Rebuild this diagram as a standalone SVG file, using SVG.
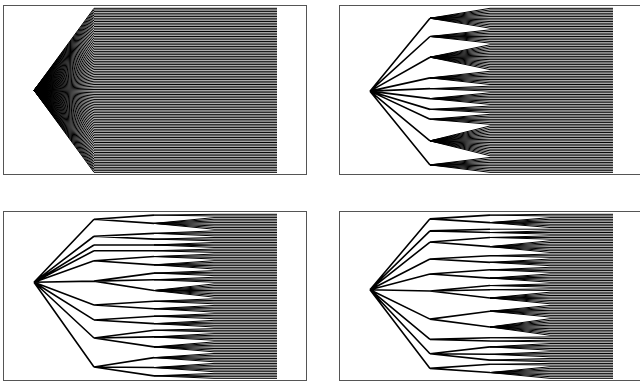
<svg xmlns="http://www.w3.org/2000/svg" xmlns:xlink="http://www.w3.org/1999/xlink" width="640" height="383" viewBox="0 0 640 383">
<style>
.ln{fill:none;stroke:#000;stroke-width:1;vector-effect:non-scaling-stroke}
.in{fill:none;stroke:#000;stroke-width:1.6;vector-effect:non-scaling-stroke}
.box{fill:none;stroke:#555;stroke-width:1}
</style>
<defs>
<path id="rows" class="ln" d="M0 0H1M0 1H1M0 2H1M0 3H1M0 4H1M0 5H1M0 6H1M0 7H1M0 8H1M0 9H1M0 10H1M0 11H1M0 12H1M0 13H1M0 14H1M0 15H1M0 16H1M0 17H1M0 18H1M0 19H1M0 20H1M0 21H1M0 22H1M0 23H1M0 24H1M0 25H1M0 26H1M0 27H1M0 28H1M0 29H1M0 30H1M0 31H1M0 32H1M0 33H1M0 34H1M0 35H1M0 36H1M0 37H1M0 38H1M0 39H1M0 40H1M0 41H1M0 42H1M0 43H1M0 44H1M0 45H1M0 46H1M0 47H1M0 48H1M0 49H1M0 50H1M0 51H1M0 52H1M0 53H1M0 54H1M0 55H1M0 56H1M0 57H1M0 58H1M0 59H1M0 60H1M0 61H1M0 62H1M0 63H1M0 64H1M0 65H1M0 66H1M0 67H1M0 68H1M0 69H1M0 70H1M0 71H1M0 72H1M0 73H1M0 74H1M0 75H1M0 76H1M0 77H1M0 78H1M0 79H1M0 80H1M0 81H1M0 82H1M0 83H1M0 84H1M0 85H1M0 86H1M0 87H1M0 88H1M0 89H1M0 90H1M0 91H1M0 92H1M0 93H1M0 94H1M0 95H1M0 96H1M0 97H1M0 98H1M0 99H1"/>
</defs>
<rect width="640" height="383" fill="#fff"/>

<g id="panel1">
<rect class="box" x="3.5" y="5.5" width="303" height="169"/>
<g id="connectors1" transform="matrix(1 0 0 1.657 0 8.3)">
<path class="ln" d="M34 49.5L94 0M34 49.5L94 1M34 49.5L94 2M34 49.5L94 3M34 49.5L94 4M34 49.5L94 5M34 49.5L94 6M34 49.5L94 7M34 49.5L94 8M34 49.5L94 9M34 49.5L94 10M34 49.5L94 11M34 49.5L94 12M34 49.5L94 13M34 49.5L94 14M34 49.5L94 15M34 49.5L94 16M34 49.5L94 17M34 49.5L94 18M34 49.5L94 19M34 49.5L94 20M34 49.5L94 21M34 49.5L94 22M34 49.5L94 23M34 49.5L94 24M34 49.5L94 25M34 49.5L94 26M34 49.5L94 27M34 49.5L94 28M34 49.5L94 29M34 49.5L94 30M34 49.5L94 31M34 49.5L94 32M34 49.5L94 33M34 49.5L94 34M34 49.5L94 35M34 49.5L94 36M34 49.5L94 37M34 49.5L94 38M34 49.5L94 39M34 49.5L94 40M34 49.5L94 41M34 49.5L94 42M34 49.5L94 43M34 49.5L94 44M34 49.5L94 45M34 49.5L94 46M34 49.5L94 47M34 49.5L94 48M34 49.5L94 49M34 49.5L94 50M34 49.5L94 51M34 49.5L94 52M34 49.5L94 53M34 49.5L94 54M34 49.5L94 55M34 49.5L94 56M34 49.5L94 57M34 49.5L94 58M34 49.5L94 59M34 49.5L94 60M34 49.5L94 61M34 49.5L94 62M34 49.5L94 63M34 49.5L94 64M34 49.5L94 65M34 49.5L94 66M34 49.5L94 67M34 49.5L94 68M34 49.5L94 69M34 49.5L94 70M34 49.5L94 71M34 49.5L94 72M34 49.5L94 73M34 49.5L94 74M34 49.5L94 75M34 49.5L94 76M34 49.5L94 77M34 49.5L94 78M34 49.5L94 79M34 49.5L94 80M34 49.5L94 81M34 49.5L94 82M34 49.5L94 83M34 49.5L94 84M34 49.5L94 85M34 49.5L94 86M34 49.5L94 87M34 49.5L94 88M34 49.5L94 89M34 49.5L94 90M34 49.5L94 91M34 49.5L94 92M34 49.5L94 93M34 49.5L94 94M34 49.5L94 95M34 49.5L94 96M34 49.5L94 97M34 49.5L94 98M34 49.5L94 99"/>
<use xlink:href="#rows" href="#rows" transform="translate(94 0) scale(183 1)"/>
</g>
</g>

<g id="panel2">
<rect class="box" x="339.5" y="5.5" width="303" height="169"/>
<g id="connectors2" transform="matrix(1 0 0 1.657 0 8.3)">
<path class="in" d="M370 50L430 6M370 50L430 17M370 50L430 29.5M370 50L430 42M370 50L430 48.5M370 50L430 54.5M370 50L430 61M370 50L430 67M370 50L430 80M370 50L430 94.5"/>
<path class="ln" d="M430 6L490 0M430 6L490 1M430 6L490 2M430 6L490 3M430 6L490 4M430 6L490 5M430 6L490 6M430 6L490 7M430 6L490 8M430 6L490 9M430 6L490 10M430 6L490 11M430 6L490 12
M430 17L490 13M430 17L490 14M430 17L490 15M430 17L490 16M430 17L490 17M430 17L490 18M430 17L490 19M430 17L490 20M430 17L490 21
M430 29.5L490 22M430 29.5L490 23M430 29.5L490 24M430 29.5L490 25M430 29.5L490 26M430 29.5L490 27M430 29.5L490 28M430 29.5L490 29M430 29.5L490 30M430 29.5L490 31M430 29.5L490 32M430 29.5L490 33M430 29.5L490 34M430 29.5L490 35M430 29.5L490 36M430 29.5L490 37
M430 42L490 38M430 42L490 39M430 42L490 40M430 42L490 41M430 42L490 42M430 42L490 43M430 42L490 44M430 42L490 45M430 42L490 46
M430 48.5L490 47M430 48.5L490 48M430 48.5L490 49M430 48.5L490 50
M430 54.5L490 51M430 54.5L490 52M430 54.5L490 53M430 54.5L490 54M430 54.5L490 55M430 54.5L490 56M430 54.5L490 57M430 54.5L490 58
M430 61L490 59M430 61L490 60M430 61L490 61M430 61L490 62M430 61L490 63
M430 67L490 64M430 67L490 65M430 67L490 66M430 67L490 67M430 67L490 68M430 67L490 69M430 67L490 70
M430 80L490 71M430 80L490 72M430 80L490 73M430 80L490 74M430 80L490 75M430 80L490 76M430 80L490 77M430 80L490 78M430 80L490 79M430 80L490 80M430 80L490 81M430 80L490 82M430 80L490 83M430 80L490 84M430 80L490 85M430 80L490 86M430 80L490 87M430 80L490 88M430 80L490 89
M430 94.5L490 90M430 94.5L490 91M430 94.5L490 92M430 94.5L490 93M430 94.5L490 94M430 94.5L490 95M430 94.5L490 96M430 94.5L490 97M430 94.5L490 98M430 94.5L490 99"/>
<use xlink:href="#rows" href="#rows" transform="translate(490 0) scale(123 1)"/>
</g>
</g>

<g id="panel3">
<rect class="box" x="3.5" y="211.5" width="303" height="169"/>
<g id="connectors3" transform="matrix(1 0 0 1.657 0 214.3)">
<path class="in" d="M34 41L94 3M34 41L94 13.25M34 41L94 18.5M34 41L94 22M34 41L94 28M34 41L94 40.33M34 41L94 54.75M34 41L94 63.75M34 41L94 74.67M34 41L94 92.17
M94 3L154 0.5M94 3L154 5.5M94 13.25L154 11.5M94 13.25L154 15M94 18.5L154 18.5M94 22L154 22M94 28L154 25.5M94 28L154 30.5M94 40.33L154 35.5M94 40.33L154 39.5M94 40.33L154 46M94 54.75L154 52.5M94 54.75L154 57M94 63.75L154 61.5M94 63.75L154 66M94 74.67L154 70M94 74.67L154 74M94 74.67L154 80M94 92.17L154 86.5M94 92.17L154 92.5M94 92.17L154 97.5"/>
<path class="ln" d="M154 0.5L214 0M154 0.5L214 1
M154 5.5L214 2M154 5.5L214 3M154 5.5L214 4M154 5.5L214 5M154 5.5L214 6M154 5.5L214 7M154 5.5L214 8M154 5.5L214 9
M154 11.5L214 10M154 11.5L214 11M154 11.5L214 12M154 11.5L214 13
M154 15L214 14M154 15L214 15M154 15L214 16
M154 18.5L214 17M154 18.5L214 18M154 18.5L214 19M154 18.5L214 20
M154 22L214 21M154 22L214 22M154 22L214 23
M154 25.5L214 24M154 25.5L214 25M154 25.5L214 26M154 25.5L214 27
M154 30.5L214 28M154 30.5L214 29M154 30.5L214 30M154 30.5L214 31M154 30.5L214 32M154 30.5L214 33
M154 35.5L214 34M154 35.5L214 35M154 35.5L214 36M154 35.5L214 37
M154 39.5L214 38M154 39.5L214 39M154 39.5L214 40M154 39.5L214 41
M154 46L214 42M154 46L214 43M154 46L214 44M154 46L214 45M154 46L214 46M154 46L214 47M154 46L214 48M154 46L214 49M154 46L214 50
M154 52.5L214 51M154 52.5L214 52M154 52.5L214 53M154 52.5L214 54
M154 57L214 55M154 57L214 56M154 57L214 57M154 57L214 58M154 57L214 59
M154 61.5L214 60M154 61.5L214 61M154 61.5L214 62M154 61.5L214 63
M154 66L214 64M154 66L214 65M154 66L214 66M154 66L214 67M154 66L214 68
M154 70L214 69M154 70L214 70M154 70L214 71
M154 74L214 72M154 74L214 73M154 74L214 74M154 74L214 75M154 74L214 76
M154 80L214 77M154 80L214 78M154 80L214 79M154 80L214 80M154 80L214 81M154 80L214 82M154 80L214 83
M154 86.5L214 84M154 86.5L214 85M154 86.5L214 86M154 86.5L214 87M154 86.5L214 88M154 86.5L214 89
M154 92.5L214 90M154 92.5L214 91M154 92.5L214 92M154 92.5L214 93M154 92.5L214 94M154 92.5L214 95
M154 97.5L214 96M154 97.5L214 97M154 97.5L214 98M154 97.5L214 99"/>
<use xlink:href="#rows" href="#rows" transform="translate(214 0) scale(63 1)"/>
</g>
</g>

<g id="panel4">
<rect class="box" x="339.5" y="211.5" width="303" height="169"/>
<g id="connectors4" transform="matrix(1 0 0 1.657 0 214.3)">
<path class="in" d="M370 45.5L430 2.75M370 45.5L430 10M370 45.5L430 16.75M370 45.5L430 27M370 45.5L430 36M370 45.5L430 46.33M370 45.5L430 63.25M370 45.5L430 75.5M370 45.5L430 84.17M370 45.5L430 93
M430 2.75L490 0.5M430 2.75L490 5M430 10L490 9M430 10L490 11M430 16.75L490 14M430 16.75L490 19.5M430 27L490 25M430 27L490 29M430 36L490 33.5M430 36L490 38.5M430 46.33L490 43M430 46.33L490 45.5M430 46.33L490 50.5M430 63.25L490 58.5M430 63.25L490 68M430 75.5L490 74.5M430 75.5L490 76.5M430 84.17L490 80M430 84.17L490 84.5M430 84.17L490 88M430 93L490 90.5M430 93L490 95.5"/>
<path class="ln" d="M490 0.5L550 0M490 0.5L550 1
M490 5L550 2M490 5L550 3M490 5L550 4M490 5L550 5M490 5L550 6M490 5L550 7M490 5L550 8
M490 9L550 9
M490 11L550 10M490 11L550 11M490 11L550 12
M490 14L550 13M490 14L550 14M490 14L550 15
M490 19.5L550 16M490 19.5L550 17M490 19.5L550 18M490 19.5L550 19M490 19.5L550 20M490 19.5L550 21M490 19.5L550 22M490 19.5L550 23
M490 25L550 24M490 25L550 25M490 25L550 26
M490 29L550 27M490 29L550 28M490 29L550 29M490 29L550 30M490 29L550 31
M490 33.5L550 32M490 33.5L550 33M490 33.5L550 34M490 33.5L550 35
M490 38.5L550 36M490 38.5L550 37M490 38.5L550 38M490 38.5L550 39M490 38.5L550 40M490 38.5L550 41
M490 43L550 42M490 43L550 43M490 43L550 44
M490 45.5L550 45M490 45.5L550 46
M490 50.5L550 47M490 50.5L550 48M490 50.5L550 49M490 50.5L550 50M490 50.5L550 51M490 50.5L550 52M490 50.5L550 53M490 50.5L550 54
M490 58.5L550 55M490 58.5L550 56M490 58.5L550 57M490 58.5L550 58M490 58.5L550 59M490 58.5L550 60M490 58.5L550 61M490 58.5L550 62
M490 68L550 63M490 68L550 64M490 68L550 65M490 68L550 66M490 68L550 67M490 68L550 68M490 68L550 69M490 68L550 70M490 68L550 71M490 68L550 72M490 68L550 73
M490 74.5L550 74M490 74.5L550 75
M490 76.5L550 76M490 76.5L550 77
M490 80L550 78M490 80L550 79M490 80L550 80M490 80L550 81M490 80L550 82
M490 84.5L550 83M490 84.5L550 84M490 84.5L550 85M490 84.5L550 86
M490 88L550 87M490 88L550 88M490 88L550 89
M490 90.5L550 90M490 90.5L550 91
M490 95.5L550 92M490 95.5L550 93M490 95.5L550 94M490 95.5L550 95M490 95.5L550 96M490 95.5L550 97M490 95.5L550 98M490 95.5L550 99"/>
<use xlink:href="#rows" href="#rows" transform="translate(550 0) scale(63 1)"/>
</g>
</g>
</svg>
